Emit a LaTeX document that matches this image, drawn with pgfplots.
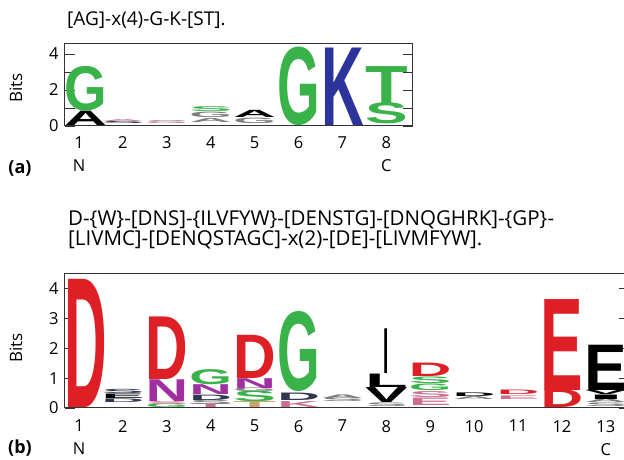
\documentclass[border=0pt]{standalone}
\usepackage{pgfplots}
\pgfplotsset{compat=1.18}
\usepackage{fontspec}
\setmainfont{Open Sans}
\newfontfamily\logofont{Liberation Sans}

\definecolor{lred}{RGB}{222,32,38}
\definecolor{lgreen}{RGB}{58,178,74}
\definecolor{lblue}{RGB}{44,52,156}
\definecolor{lpurple}{RGB}{160,48,160}
\definecolor{lgray}{RGB}{125,125,125}
\definecolor{lpink}{RGB}{205,110,140}
\definecolor{ltan}{RGB}{205,160,110}
\definecolor{ldark}{RGB}{50,55,80}

% one node per letter: x = column, y = bottom of letter, h = height in bits, w = width in columns
\pgfplotsset{
  logo/.style={
    only marks, mark=*, mark size=0pt, draw=none, fill=none,
    point meta=explicit symbolic,
    visualization depends on={\thisrow{w}*43.9 \as \ww},
    visualization depends on={\thisrow{h}*#1 \as \hh},
    visualization depends on={value \thisrow{c} \as \cc},
    nodes near coords={\resizebox{\ww pt}{\hh pt}{\textcolor{\cc}{\logofont\bfseries\pgfplotspointmeta}}},
    every node near coord/.append style={anchor=south, inner sep=0pt, outer sep=0pt},
  },
  logoaxis/.style={
    x=43.9pt, xmin=0.68, ymin=0,
    xtick style={draw=none},
    ytick={0,1,2,3,4},
    major tick length=10pt,
    ytick style={black!80, line width=0.8pt},
    axis line style={black!80, line width=1pt},
    tick label style={font=\fontsize{16.5}{23}\selectfont},
    /pgf/number format/assume math mode=true,
    xticklabel style={align=center},
    yticklabel style={xshift=-3pt},
    ylabel={Bits},
    ylabel style={font=\fontsize{17}{20}\selectfont, anchor=center, yshift=49pt},
    anchor=south west,
  },
}

\begin{document}
\begin{tikzpicture}
\path[use as bounding box] (0,0) rectangle (624pt,460pt);

\node[anchor=base west, inner sep=0pt, font=\fontsize{19}{20}\selectfont] at (67pt,434pt) {[AG]-x(4)-G-K-[ST].};
\node[anchor=base west, inner sep=0pt, font=\fontsize{20.5}{20}\selectfont] at (68pt,234pt) {D-\{W\}-[DNS]-\{ILVFYW\}-[DENSTG]-[DNQGHRK]-\{GP\}-};
\node[anchor=base west, inner sep=0pt, font=\fontsize{20.5}{20}\selectfont] at (68pt,214pt) {[LIVMC]-[DENQSTAGC]-x(2)-[DE]-[LIVMFYW].};
\node[font=\fontsize{18}{20}\selectfont\bfseries] at (20pt,291pt) {(a)};
\node[font=\fontsize{18}{20}\selectfont\bfseries] at (20pt,12pt) {(b)};

\begin{axis}[logoaxis,
  at={(65pt,334pt)},
  y=18pt, xmax=8.6, ymax=4.56,
  xtick={1,...,8},
  xticklabels={{1\\N},2,3,4,5,6,7,{8\\C}},
  xticklabel style={yshift=-7.5pt},
  yticklabels={0,,2,,4},
  ylabel style={at={(axis description cs:0,0.463)}},
]
\addplot[logo=18] table[x=x, y=y, meta=l] {
x y h w l c
1.15 0 0.8 0.97 A black
1.15 0.8 2.45 0.97 G lgreen
2 0.15 0.12 0.97 S ldark
2 0.27 0.1 0.97 A lpink
3 0.12 0.1 0.97 G lpink
3 0.22 0.05 0.97 S lgray
4 0.2 0.22 0.97 A lgray
4 0.45 0.3 0.97 G lgray
4 0.78 0.27 0.97 S lgreen
5 0.15 0.3 0.97 G lgray
5 0.48 0.4 0.97 A black
6 0 4.3 0.97 G lgreen
7 0 4.3 0.97 K lblue
8 0.1 1.15 0.97 S lgreen
8 1.25 2.05 0.97 T lgreen
};
\end{axis}

\begin{axis}[logoaxis,
  at={(65pt,52pt)},
  y=29.8pt, xmax=13.53, ymax=4.53,
  xtick={1,...,13},
  xticklabels={{1\\N},2,3,4,5,6,7,8,9,10,11,12,{13\\C}},
  xticklabel style={yshift=-8.6pt},
  ylabel style={at={(axis description cs:0,0.444)}},
]
\addplot[logo=29.8] table[x=x, y=y, meta=l] {
x y h w l c
1.15 0 4.3 0.97 D lred
2 0.2 0.12 0.97 D ldark
2 0.33 0.15 0.97 E black
2 0.49 0.14 0.97 S ldark
3 0 0.12 0.97 G lgreen
3 0.12 0.1 0.97 S lpink
3 0.22 0.73 0.97 N lpurple
3 0.95 2.1 0.97 D lred
4 0 0.12 0.97 T lpink
4 0.12 0.14 0.97 S lgray
4 0.26 0.18 0.97 D ldark
4 0.44 0.33 0.97 N lpurple
4 0.77 0.5 0.97 G lgreen
5 0 0.2 0.97 T ltan
5 0.2 0.35 0.97 S lgreen
5 0.55 0.12 0.97 G lgray
5 0.67 0.33 0.97 N lpurple
5 1.0 1.45 0.97 D lred
6 0.03 0.2 0.97 K lpink
6 0.25 0.25 0.97 D ldark
6 0.54 2.65 0.97 G lgreen
7 0.2 0.12 0.97 S lgray
7 0.32 0.12 0.97 A lgray
8 0.05 0.12 0.97 S lgray
8 0.2 0.5 0.97 V black
8 0.7 0.45 0.97 L black
8 1.17 1.5 0.12 I black
9 0.1 0.25 0.97 E lpink
9 0.35 0.2 0.97 S lpink
9 0.6 0.22 0.97 G lgreen
9 0.82 0.22 0.97 S lgreen
9 1.05 0.45 0.97 D lred
10 0.3 0.1 0.97 A lgray
10 0.4 0.12 0.97 D black
11 0.3 0.12 0.97 E lpink
11 0.45 0.15 0.97 D lred
12 0 0.6 0.97 D lred
12 0.6 3.05 0.97 E lred
13 0.05 0.12 0.97 S lgray
13 0.17 0.12 0.97 A lgray
13 0.29 0.15 0.97 I black
13 0.44 0.14 0.97 V black
13 0.58 1.52 0.97 E black
};
\end{axis}
\end{tikzpicture}
\end{document}
